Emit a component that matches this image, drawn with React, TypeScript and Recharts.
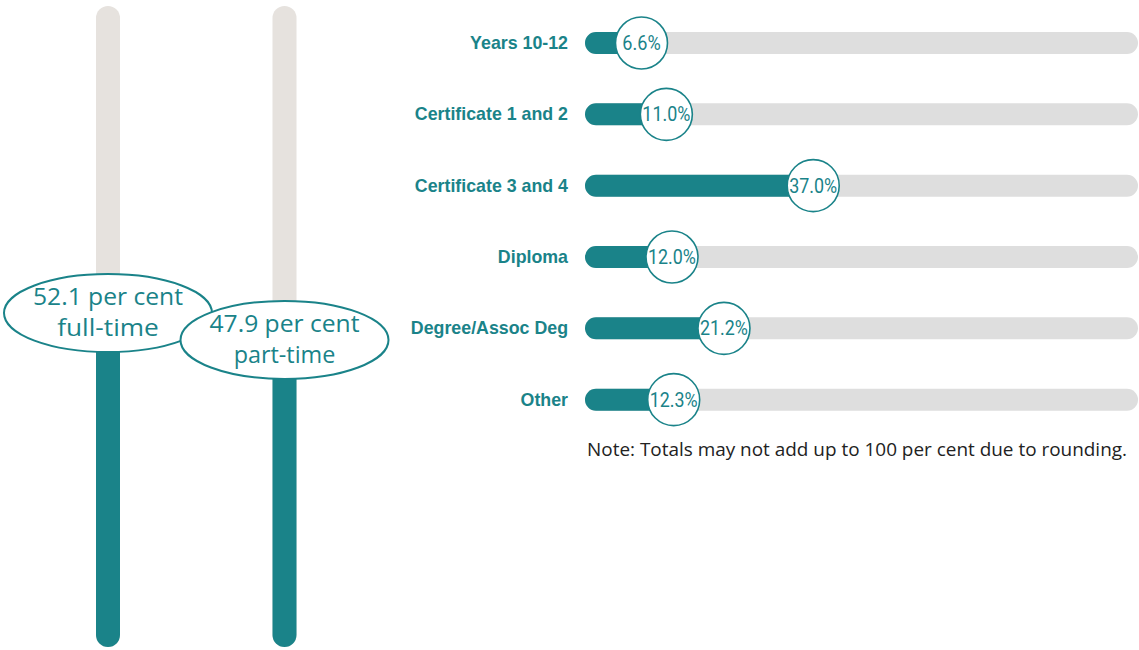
import React from 'react';
import { BarChart, Bar, XAxis, YAxis, LabelList } from 'recharts';

const TEAL = '#1a8389';
const LEFT_TRACK = '#e6e2de';
const RIGHT_TRACK = '#dedede';

const modes = ['full-time', 'part-time'];
const modeShares = [52.1, 47.9];

const qualifications = [
  'Years 10-12',
  'Certificate 1 and 2',
  'Certificate 3 and 4',
  'Diploma',
  'Degree/Assoc Deg',
  'Other',
];
const qualificationShares = [6.6, 11.0, 37.0, 12.0, 21.2, 12.3];

const TRACK_MIN = -3.4;
const TRACK_MAX = 94.5;

const note = 'Note: Totals may not add up to 100 per cent due to rounding.';

const modeData = modes.map((m, i) => ({
  name: m,
  track: [0, 100],
  share: [0, modeShares[i]],
}));

const qualData = qualifications.map((q, i) => ({
  name: q,
  track: [TRACK_MIN, TRACK_MAX],
  share: [TRACK_MIN, qualificationShares[i]],
}));

const EllipseLabel = (props: any) => {
  const { x, y, width, index } = props;
  const cx = Number(x) + Number(width) / 2;
  const cy = Number(y);
  const line1 = `${modeShares[index].toFixed(1)} per cent`;
  const line2 = modes[index];
  return (
    <g>
      <ellipse cx={cx} cy={cy} rx={104} ry={39} fill="#fff" stroke={TEAL} strokeWidth={2} />
      <text
        x={cx}
        y={cy - 8}
        textAnchor="middle"
        fill={TEAL}
        fontFamily="Open Sans"
        fontSize={23}
        textLength={150}
        lengthAdjust="spacingAndGlyphs"
      >
        {line1}
      </text>
      <text
        x={cx}
        y={cy + 23}
        textAnchor="middle"
        fill={TEAL}
        fontFamily="Open Sans"
        fontSize={23}
        textLength={line2.length * 11.3}
        lengthAdjust="spacingAndGlyphs"
      >
        {line2}
      </text>
    </g>
  );
};

const CircleLabel = (props: any) => {
  const { x, y, width, height, index } = props;
  const cx = Number(x) + Number(width);
  const cy = Number(y) + Number(height) / 2;
  const t = `${qualificationShares[index].toFixed(1)}%`;
  return (
    <g>
      <circle cx={cx} cy={cy} r={26} fill="#fff" stroke={TEAL} strokeWidth={1.6} />
      <text
        x={cx}
        y={cy + 7}
        textAnchor="middle"
        fill={TEAL}
        fontFamily="Roboto"
        fontSize={20}
        textLength={t.length * 9.6}
        lengthAdjust="spacingAndGlyphs"
      >
        {t}
      </text>
    </g>
  );
};

export default function App() {
  return (
    <div style={{ position: 'absolute', left: 0, top: 0, width: 1139, height: 650, background: '#fff' }}>
      <div style={{ position: 'absolute', left: 0, top: 0 }}>
        <BarChart width={400} height={650} data={modeData} margin={{ top: 6, right: 27, bottom: 3, left: 20 }}>
          <XAxis xAxisId="a" dataKey="name" hide />
          <XAxis xAxisId="b" dataKey="name" hide />
          <YAxis type="number" domain={[0, 100]} hide />
          <Bar xAxisId="a" dataKey="track" fill={LEFT_TRACK} barSize={24} radius={12} isAnimationActive={false} />
          <Bar xAxisId="b" dataKey="share" fill={TEAL} barSize={24} radius={12} isAnimationActive={false}>
            <LabelList dataKey="share" content={EllipseLabel} />
          </Bar>
        </BarChart>
      </div>
      <div style={{ position: 'absolute', left: 400, top: 0 }}>
        <BarChart
          width={739}
          height={440}
          data={qualData}
          layout="vertical"
          margin={{ top: 7, right: 1, bottom: 5, left: 0 }}
        >
          <XAxis type="number" domain={[TRACK_MIN, TRACK_MAX]} allowDataOverflow hide />
          <YAxis
            yAxisId="a"
            type="category"
            dataKey="name"
            width={185}
            tickLine={false}
            axisLine={false}
            tickSize={0}
            tickMargin={17}
            tick={{ fill: TEAL, fontSize: 17.8, fontWeight: 700, fontFamily: 'Liberation Sans' }}
          />
          <YAxis yAxisId="b" type="category" dataKey="name" hide />
          <Bar yAxisId="a" dataKey="track" fill={RIGHT_TRACK} barSize={22} radius={11} isAnimationActive={false} />
          <Bar yAxisId="b" dataKey="share" fill={TEAL} barSize={22} radius={11} isAnimationActive={false}>
            <LabelList dataKey="share" content={CircleLabel} />
          </Bar>
        </BarChart>
      </div>
      <div style={{ position: 'absolute', left: 587, top: 434 }}>
        <svg width={552} height={32}>
          <text
            x={0}
            y={22}
            fill="#222"
            fontFamily="Open Sans"
            fontSize={19}
            textLength={540}
            lengthAdjust="spacingAndGlyphs"
          >
            {note}
          </text>
        </svg>
      </div>
    </div>
  );
}
